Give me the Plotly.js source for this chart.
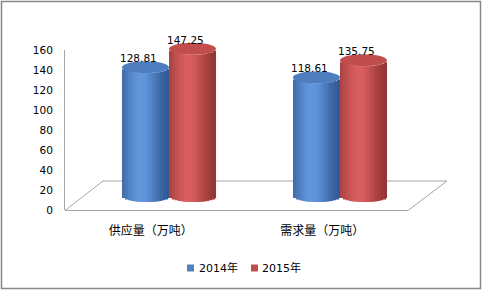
<!DOCTYPE html>
<html><head><meta charset="utf-8">
<script src="https://cdn.plot.ly/plotly-3.0.1.min.js"></script>
<style>html,body{margin:0;padding:0;background:#fff;} #chart{width:483px;height:291px;}</style>
</head><body><div id="chart"></div>
<script>
// ---- data ----
const categories = ['供应量（万吨）', '需求量（万吨）'];
const seriesNames = ['2014年', '2015年'];
const values2014 = [128.81, 118.61];
const values2015 = [147.25, 135.75];
const yTickVals = [0, 20, 40, 60, 80, 100, 120, 140, 160];

// ---- layout helpers ----
const W = 483, H = 291;
const px = x => x / W;
const py = y => 1 - y / H;
const NUMFONT = 'DejaVu Sans, Noto Sans CJK SC, sans-serif';
const CJKFONT = 'Noto Sans CJK SC, DejaVu Sans, sans-serif';

const series = [
  {name: seriesNames[0], values: values2014, dark: [36, 72, 128], light: [98, 150, 220], top: '#4d7dbe', offset: -0.275},
  {name: seriesNames[1], values: values2015, dark: [128, 42, 42], light: [218, 94, 94], top: '#c24d4d', offset: 0}
];
const BW = 0.275, N = 16, EH = 6;

function shade(s, t) {
  const g = 0.12 + 0.88 * Math.exp(-Math.pow((t - 0.4) / 0.4, 2));
  const c = s.dark.map((d, i) => Math.round(d + (s.light[i] - d) * g));
  return 'rgb(' + c.join(',') + ')';
}

// dummy trace so the visible front axes (x / y) are drawn
const traces = [{
  type: 'scatter', mode: 'markers', x: [], y: [], xaxis: 'x', yaxis: 'y',
  marker: {opacity: 0}, showlegend: false, hoverinfo: 'skip'
}];
const shapes = [];
const annotations = [];

series.forEach(s => {
  for (let k = 0; k < N; k++) {
    const t = (k + 0.5) / N;
    const u = 2 * t - 1;
    const d = EH * Math.sqrt(1 - u * u);
    const last = k === N - 1;
    traces.push({
      type: 'bar', x: categories, y: s.values,
      base: s.values.map(() => -d),
      offset: s.offset + k * BW / N, width: BW / N + (last ? 0 : 0.012),
      marker: {color: shade(s, t), line: {width: 0}},
      xaxis: 'x2', yaxis: 'y2', showlegend: false, hoverinfo: 'skip'
    });
  }
  s.values.forEach((v, i) => {
    shapes.push({
      type: 'circle', xref: 'x2', yref: 'y2', layer: 'above',
      x0: i + s.offset, x1: i + s.offset + BW, y0: v - EH, y1: v + EH,
      fillcolor: s.top, line: {width: 0}
    });
    annotations.push({
      xref: 'x2', yref: 'y2', x: i + s.offset + BW / 2, y: v,
      text: v.toFixed(2), showarrow: false, xshift: -7, yshift: 9,
      font: {family: NUMFONT, size: 10.5, color: '#000'}
    });
  });
});

// floor parallelogram
shapes.push({
  type: 'path', xref: 'paper', yref: 'paper', layer: 'below',
  path: 'M' + px(65) + ',' + py(210.5) + ' L' + px(103) + ',' + py(181) + ' L' + px(447) + ',' + py(181) +
        ' L' + px(408) + ',' + py(210.5) + ' Z',
  line: {color: '#a6a6a6', width: 1}, fillcolor: 'rgba(0,0,0,0)'
});
// outer border
shapes.push({
  type: 'rect', xref: 'paper', yref: 'paper', layer: 'below',
  x0: px(1.5), x1: px(480.5), y0: py(288.5), y1: py(1.5),
  line: {color: '#868686', width: 1.5}, fillcolor: 'rgba(0,0,0,0)'
});

// custom legend
const legendPos = [{sq: 187, tx: 197}, {sq: 251, tx: 260}];
series.forEach((s, i) => {
  shapes.push({
    type: 'rect', xref: 'paper', yref: 'paper',
    x0: px(legendPos[i].sq), x1: px(legendPos[i].sq + 7), y0: py(271.5), y1: py(264.5),
    fillcolor: i === 0 ? '#4f81bd' : '#c0504d', line: {width: 0}
  });
  annotations.push({
    xref: 'paper', yref: 'paper', x: px(legendPos[i].tx), y: py(268),
    xanchor: 'left', yanchor: 'middle', text: s.name, showarrow: false,
    font: {family: NUMFONT, size: 11, color: '#000'}
  });
});

const layout = {
  width: W, height: H,
  margin: {l: 0, r: 0, t: 0, b: 0, pad: 0},
  paper_bgcolor: '#fff', plot_bgcolor: 'rgba(0,0,0,0)',
  barmode: 'overlay', showlegend: false,
  xaxis: {
    type: 'linear', domain: [px(65), px(408)], range: [-0.5, 1.5], anchor: 'y',
    tickmode: 'array', tickvals: [0, 1], ticktext: categories,
    showline: false, showgrid: false, zeroline: false, ticks: '',
    ticklabelstandoff: 12,
    tickfont: {family: CJKFONT, size: 12, color: '#000'}
  },
  yaxis: {
    domain: [py(210), py(50)], range: [0, 160], anchor: 'x',
    tickmode: 'array', tickvals: yTickVals,
    showline: true, linecolor: '#a6a6a6', linewidth: 1,
    showgrid: false, zeroline: false, ticks: '', ticklabelstandoff: 9,
    tickfont: {family: NUMFONT, size: 10.5, color: '#000'}
  },
  xaxis2: {
    type: 'category', domain: [px(83.5), px(425.5)], range: [-0.5, 1.5], anchor: 'y2',
    visible: false, showgrid: false, zeroline: false
  },
  yaxis2: {
    domain: [py(230), py(20)], range: [-34, 176], anchor: 'x2',
    visible: false, showgrid: false, zeroline: false
  },
  shapes: shapes,
  annotations: annotations
};

Plotly.newPlot('chart', traces, layout, {staticPlot: true, displayModeBar: false});
</script>
</body></html>
